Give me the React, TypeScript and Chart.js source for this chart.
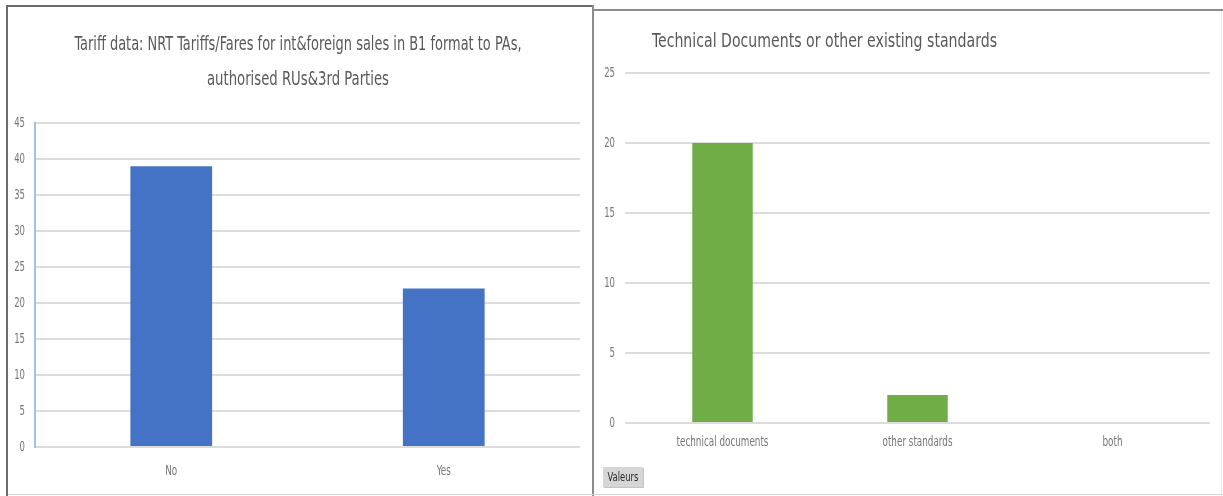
import React, { useEffect, useRef } from "react";
import { Chart, registerables } from "chart.js";

Chart.register(...registerables);

// ---------- data ----------
const leftTitleLines = [
  "Tariff data: NRT Tariffs/Fares for int&foreign sales in B1 format to PAs,",
  "authorised RUs&3rd Parties",
];
const leftCategories = ["No", "Yes"];
const leftValues = [39, 22];
const leftAxisMax = 45;
const leftAxisStep = 5;

const rightTitleLines = ["Technical Documents or other existing standards"];
const rightCategories = ["technical documents", "other standards", "both"];
const rightValues = [20, 2, 0];
const rightAxisMax = 25;
const rightAxisStep = 5;
const rightSeriesName = "Valeurs";

// ---------- styles ----------
const NARROW = '"Liberation Sans Narrow", "DejaVu Sans Condensed", "Arial Narrow", sans-serif';
const TITLE_COLOR = "#595959";
const TICK_COLOR = "#767676";
const GRID_COLOR = "#dcdcdc";

type TitleCfg = {
  lines: string[];
  x: number;
  y: number;
  lineHeight: number;
  size: number;
  align: CanvasTextAlign;
  widths: number[];
};

function squeezedTitle(cfg: TitleCfg) {
  return {
    id: "squeezedTitle",
    afterDraw(chart: any) {
      const ctx: CanvasRenderingContext2D = chart.ctx;
      ctx.save();
      ctx.font = `${cfg.size}px ${NARROW}`;
      ctx.fillStyle = TITLE_COLOR;
      ctx.textBaseline = "middle";
      ctx.textAlign = cfg.align;
      cfg.lines.forEach((line, i) => {
        const w = ctx.measureText(line).width;
        const sx = cfg.widths[i] ? cfg.widths[i] / w : 1;
        ctx.save();
        ctx.translate(cfg.x, cfg.y + i * cfg.lineHeight);
        ctx.scale(sx, 1);
        ctx.fillText(line, 0, 0);
        ctx.restore();
      });
      ctx.restore();
    },
  };
}

// draws the axis labels of the library's scales with a condensed look
function squeezedTicks(cfg: { xOffset: number; xSize: number; ySize: number; yPad: number; sx: number }) {
  return {
    id: "squeezedTicks",
    afterDraw(chart: any) {
      const ctx: CanvasRenderingContext2D = chart.ctx;
      const xs = chart.scales.x;
      const ys = chart.scales.y;
      ctx.save();
      ctx.fillStyle = TICK_COLOR;
      ctx.textBaseline = "middle";
      ctx.font = `${cfg.xSize}px ${NARROW}`;
      ctx.textAlign = "center";
      xs.ticks.forEach((t: any, i: number) => {
        const px = xs.getPixelForTick(i);
        ctx.save();
        ctx.translate(px, xs.top + cfg.xOffset);
        ctx.scale(cfg.sx, 1);
        ctx.fillText(String(t.label), 0, 0);
        ctx.restore();
      });
      ctx.font = `${cfg.ySize}px ${NARROW}`;
      ctx.textAlign = "right";
      ys.ticks.forEach((t: any, i: number) => {
        const py = ys.getPixelForTick(i);
        ctx.save();
        ctx.translate(ys.right - cfg.yPad, py);
        ctx.scale(cfg.sx, 1);
        ctx.fillText(String(t.label), 0, 0);
        ctx.restore();
      });
      ctx.restore();
    },
  };
}

function seriesTag(label: string) {
  return {
    id: "seriesTag",
    afterDraw(chart: any) {
      const ctx: CanvasRenderingContext2D = chart.ctx;
      ctx.save();
      const x = 8, y = 456, w = 40, h = 20;
      ctx.fillStyle = "#c4c4c4";
      ctx.fillRect(x + 1, y + 1, w, h);
      ctx.fillStyle = "#d6d6d6";
      ctx.fillRect(x, y, w, h);
      ctx.fillStyle = "#2a2a2a";
      ctx.font = `13px ${NARROW}`;
      ctx.textBaseline = "middle";
      ctx.textAlign = "center";
      ctx.save();
      ctx.translate(x + w / 2, y + h / 2 + 1);
      ctx.scale(0.72, 1);
      ctx.fillText(label, 0, 0);
      ctx.restore();
      ctx.restore();
    },
  };
}

function BarPanel(props: { width: number; height: number; config: any }) {
  const ref = useRef<HTMLCanvasElement | null>(null);
  useEffect(() => {
    if (!ref.current) return;
    const chart = new Chart(ref.current, props.config);
    return () => chart.destroy();
  }, []);
  return <canvas ref={ref} width={props.width} height={props.height} style={{ display: "block" }} />;
}

const leftConfig = {
  type: "bar",
  data: {
    labels: leftCategories,
    datasets: [
      {
        data: leftValues,
        backgroundColor: "#4472c4",
        borderWidth: 0,
        barPercentage: 0.3,
        categoryPercentage: 1,
      },
    ],
  },
  options: {
    responsive: false,
    animation: false,
    devicePixelRatio: 1,
    layout: { padding: { top: 116, right: 12, left: 0, bottom: 0 } },
    plugins: { legend: { display: false }, tooltip: { enabled: false }, title: { display: false } },
    scales: {
      x: {
        grid: { display: false, drawTicks: false },
        border: { display: false },
        ticks: { display: false },
        afterFit: (s: any) => { s.height = 47; },
      },
      y: {
        min: 0,
        max: leftAxisMax,
        ticks: { stepSize: leftAxisStep, display: false },
        grid: { color: GRID_COLOR, lineWidth: 2, drawTicks: false },
        border: { display: true, color: "#9dc3e6", width: 2 },
        afterFit: (s: any) => { s.width = 27; },
      },
    },
  },
  plugins: [
    squeezedTitle({
      lines: leftTitleLines,
      x: 290,
      y: 38,
      lineHeight: 35,
      size: 19,
      align: "center",
      widths: [447, 182],
    }),
    squeezedTicks({ xOffset: 24, xSize: 14, ySize: 13.5, yPad: 10, sx: 0.7 }),
  ],
};

const rightConfig = {
  type: "bar",
  data: {
    labels: rightCategories,
    datasets: [
      {
        label: rightSeriesName,
        data: rightValues,
        backgroundColor: "#70ad47",
        borderWidth: 0,
        barPercentage: 0.31,
        categoryPercentage: 1,
      },
    ],
  },
  options: {
    responsive: false,
    animation: false,
    devicePixelRatio: 1,
    layout: { padding: { top: 62, right: 11, left: 0, bottom: 0 } },
    plugins: { legend: { display: false }, tooltip: { enabled: false }, title: { display: false } },
    scales: {
      x: {
        grid: { display: false, drawTicks: false },
        border: { display: false },
        ticks: { display: false },
        afterFit: (s: any) => { s.height = 71; },
      },
      y: {
        min: 0,
        max: rightAxisMax,
        ticks: { stepSize: rightAxisStep, display: false },
        grid: { color: GRID_COLOR, lineWidth: 2, drawTicks: false },
        border: { display: false },
        afterFit: (s: any) => { s.width = 30; },
      },
    },
  },
  plugins: [
    squeezedTitle({
      lines: rightTitleLines,
      x: 57,
      y: 31,
      lineHeight: 35,
      size: 19,
      align: "left",
      widths: [345],
    }),
    squeezedTicks({ xOffset: 19, xSize: 14, ySize: 13.5, yPad: 10, sx: 0.7 }),
    seriesTag(rightSeriesName),
  ],
};

function Line(p: { l: number; t: number; w: number; h: number; c: string }) {
  return <div style={{ position: "absolute", left: p.l, top: p.t, width: p.w, height: p.h, background: p.c }} />;
}

export default function App() {
  return (
    <div style={{ position: "fixed", left: 0, top: 0, width: 1223, height: 496, background: "#ffffff", overflow: "hidden" }}>
      <div style={{ position: "absolute", left: 8, top: 7 }}>
        <BarPanel width={584} height={487} config={leftConfig} />
      </div>
      <div style={{ position: "absolute", left: 595, top: 11 }}>
        <BarPanel width={626} height={483} config={rightConfig} />
      </div>
      <Line l={6} t={5} w={2} h={491} c="#6a6a6a" />
      <Line l={6} t={5} w={588} h={2} c="#6a6a6a" />
      <Line l={592} t={5} w={2} h={491} c="#8c8c8c" />
      <Line l={594} t={9} w={629} h={2} c="#8c8c8c" />
      <Line l={8} t={494} w={1215} h={1} c="#d4d4d4" />
      <Line l={1221} t={11} w={1} h={483} c="#e6e6e6" />
    </div>
  );
}
